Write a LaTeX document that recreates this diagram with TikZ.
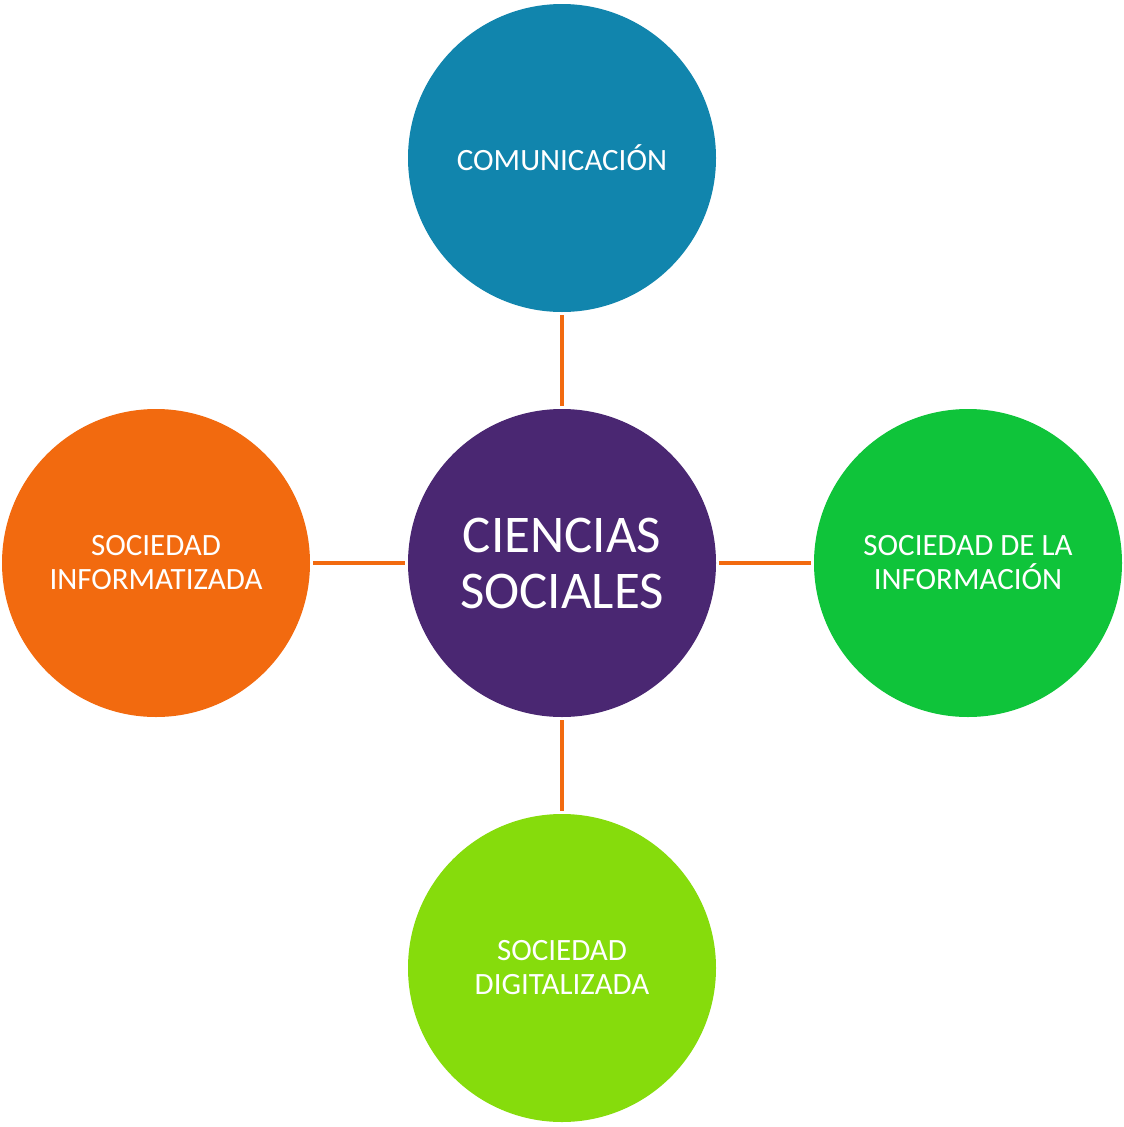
\documentclass[tikz,border=0pt]{standalone}
\usepackage{fontspec}
\setmainfont{Carlito}
\definecolor{cTop}{HTML}{1185AD}
\definecolor{cMid}{HTML}{4A2772}
\definecolor{cLeft}{HTML}{F26A0F}
\definecolor{cRight}{HTML}{0FC43A}
\definecolor{cBot}{HTML}{86DC0C}
\definecolor{cLine}{HTML}{F26A0F}
\begin{document}
\begin{tikzpicture}[x=1pt,y=-1pt,
  bubble/.style={circle,minimum size=308pt,inner sep=0pt,text=white,align=center,
    font=\fontsize{31}{34}\selectfont},
  link/.style={draw=cLine,line width=3.5pt,shorten <=3pt,shorten >=3pt}]
\useasboundingbox (0,0) rectangle (1124,1127);
\fill[white] (0,0) rectangle (1124,1127);
\node[bubble,fill=cTop] (top) at (562,158) {COMUNICACIÓN};
\node[bubble,fill=cMid,font=\fontsize{53}{56}\selectfont] (mid) at (562,563) {CIENCIAS\\SOCIALES};
\node[bubble,fill=cLeft] (left) at (156,563) {SOCIEDAD\\INFORMATIZADA};
\node[bubble,fill=cRight] (right) at (968,563) {SOCIEDAD DE LA\\INFORMACIÓN};
\node[bubble,fill=cBot] (bot) at (562,968) {SOCIEDAD\\DIGITALIZADA};
\draw[link] (top) -- (mid);
\draw[link] (mid) -- (bot);
\draw[link] (left) -- (mid);
\draw[link] (mid) -- (right);
\end{tikzpicture}
\end{document}
